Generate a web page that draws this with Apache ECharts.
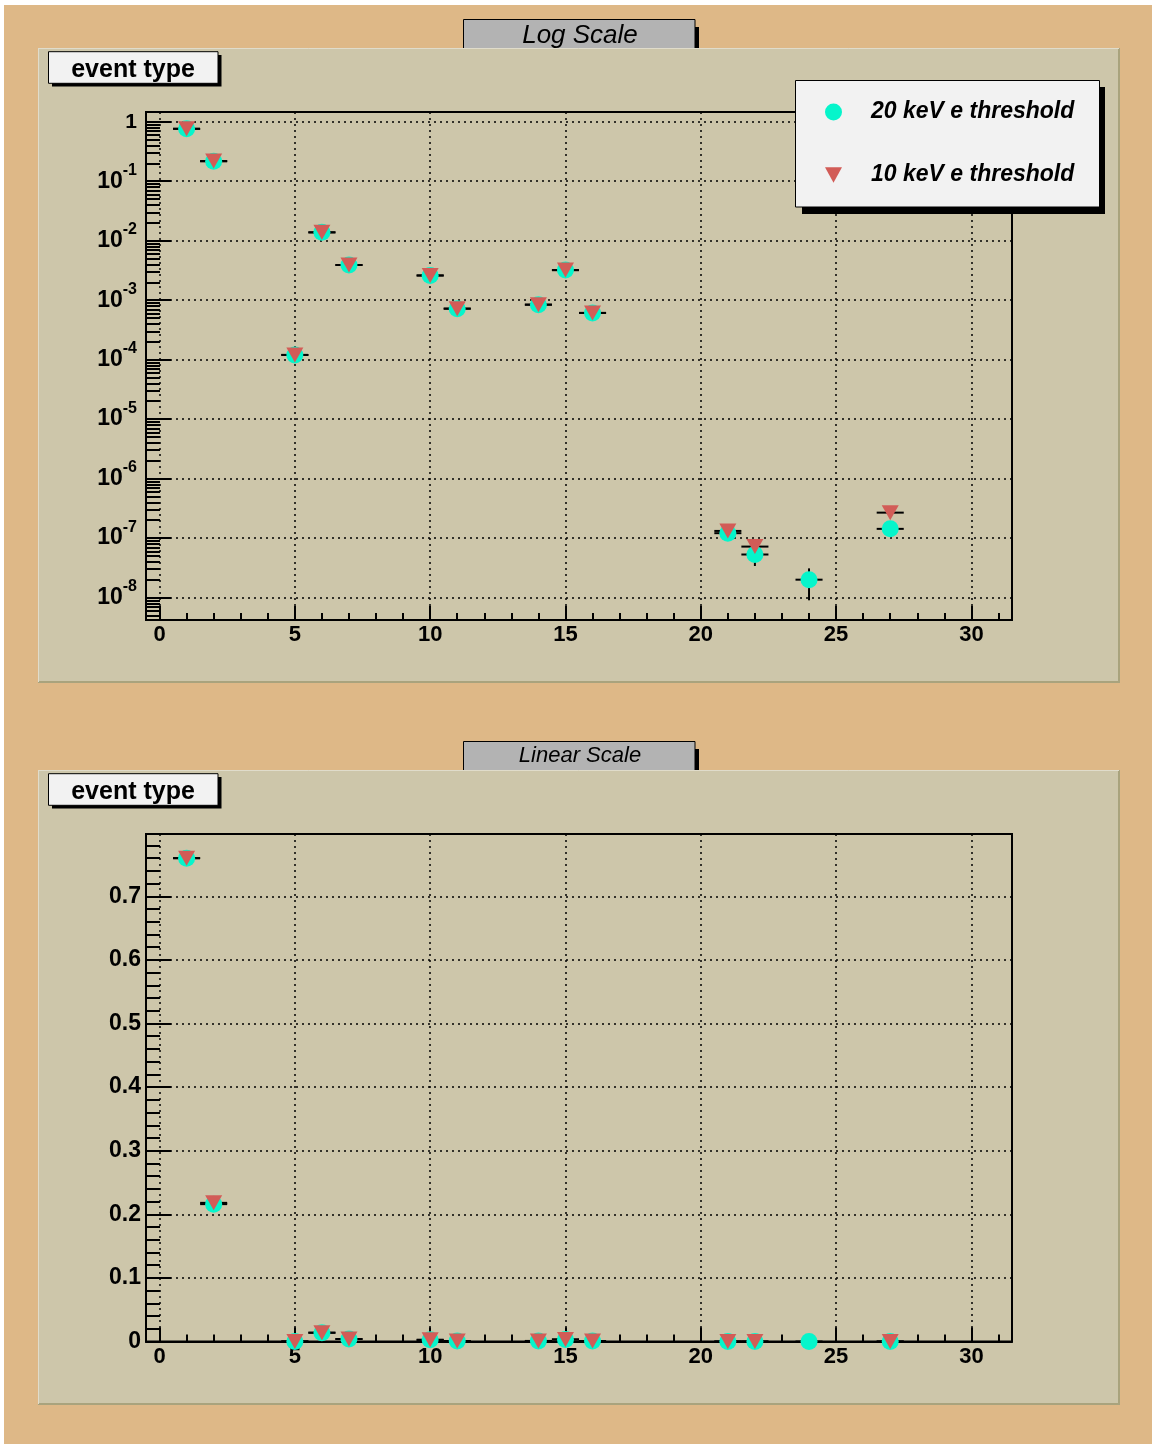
<!DOCTYPE html>
<html>
<head>
<meta charset="utf-8">
<script src="https://cdn.jsdelivr.net/npm/echarts@6/dist/echarts.min.js"></script>
<style>
  html, body { margin: 0; padding: 0; background: #fff; }
  #chart { width: 1154px; height: 1446px; }
</style>
</head>
<body>
<div id="chart"></div>
<script>
// event type bins that have entries
const bins = [1, 2, 5, 6, 7, 10, 11, 14, 15, 16, 21, 22, 24, 27];
// 20 keV e threshold (circles)
const thr20 = [0.76, 0.216, 1.2e-4, 0.0138, 0.0039, 0.0026, 7.2e-4, 8.4e-4, 0.0032, 6.1e-4, 1.21e-7, 5.3e-8, 2.0e-8, 1.43e-7];
const err20 = [0.004, 0.002, 1.2e-5, 5e-4, 2e-4, 1.5e-4, 6e-5, 6e-5, 1.5e-4, 5e-5, 3e-8, 1.9e-8, 1.1e-8, 3e-8];
// 10 keV e threshold (triangles), nothing in bin 24
const thr10 = [0.76, 0.218, 1.2e-4, 0.0138, 0.0039, 0.0026, 7.2e-4, 8.4e-4, 0.0032, 6.1e-4, 1.32e-7, 7.2e-8, null, 2.68e-7];
const err10 = [0.004, 0.002, 1.2e-5, 5e-4, 2e-4, 1.5e-4, 6e-5, 6e-5, 1.5e-4, 5e-5, 3e-8, 2e-8, null, 4e-8];

const xMajorTicks = [0, 5, 10, 15, 20, 25, 30];
const xMinorTicks = [1, 2, 3, 4, 6, 7, 8, 9, 11, 12, 13, 14, 16, 17, 18, 19, 21, 22, 23, 24, 26, 27, 28, 29, 31];
const logMajorTicks = [1e-8, 1e-7, 1e-6, 1e-5, 1e-4, 1e-3, 1e-2, 1e-1, 1];
const linMajorTicks = [0, 0.1, 0.2, 0.3, 0.4, 0.5, 0.6, 0.7];
const linMinorTicks = [0.02, 0.04, 0.06, 0.08, 0.12, 0.14, 0.16, 0.18, 0.22, 0.24, 0.26, 0.28,
  0.32, 0.34, 0.36, 0.38, 0.42, 0.44, 0.46, 0.48, 0.52, 0.54, 0.56, 0.58,
  0.62, 0.64, 0.66, 0.68, 0.72, 0.74, 0.76, 0.78];

const yLogMin = 4.2e-9, yLogMax = 1.456;
const yLinMax = 0.798;

// 2..9 x 10^n between the decades
const logMinorTicks = [];
for (let n = -9; n <= 0; n++) {
  for (let k = 2; k <= 9; k++) {
    const v = k * Math.pow(10, n);
    if (v > yLogMin && v < yLogMax) logMinorTicks.push(v);
  }
}

const name20 = "20 keV e threshold";
const name10 = "10 keV e threshold";
const font = "'Liberation Sans', Arial, Helvetica, sans-serif";
const triPath = "path://M0,0L20,0L10,18Z";
const black = { color: "#000", width: 2 };

const myChart = echarts.init(document.getElementById("chart"));

const plots = [
  { top: 112, height: 508, log: true, title: "Log Scale", titleSize: 26 },
  { top: 834, height: 507.5, log: false, title: "Linear Scale", titleSize: 22 },
];

const grids = [], xAxes = [], yAxes = [], series = [], elements = [];

elements.push({ type: "rect", z: -20, shape: { x: 4, y: 5, width: 1148, height: 1439 }, style: { fill: "#deb887" } });

plots.forEach((p, i) => {
  const off = 722 * i;
  const main = i * 2;
  grids.push({ left: 146, top: p.top, width: 866, height: p.height, show: true, borderColor: "#000", borderWidth: 2, backgroundColor: "transparent" });
  grids.push({ left: 146, top: p.top, width: 866, height: p.height, show: false });

  xAxes.push({
    type: "value", gridIndex: main, min: -0.5, max: 31.5,
    axisLine: { show: true, onZero: false, lineStyle: black },
    axisTick: { show: true, inside: true, length: 14, customValues: xMajorTicks, lineStyle: black },
    axisLabel: { customValues: xMajorTicks, color: "#000", fontFamily: font, fontWeight: "bold", fontSize: 22, margin: 4 },
    splitLine: { show: true, lineStyle: { color: "#000", width: 1.5, type: [2, 4] } },
  });
  xAxes.push({
    type: "value", gridIndex: main + 1, min: -0.5, max: 31.5,
    axisLine: { show: false, onZero: false },
    axisTick: { show: true, inside: true, length: 7, customValues: xMinorTicks, lineStyle: black },
    axisLabel: { show: false },
    splitLine: { show: false },
  });

  if (p.log) {
    yAxes.push({
      type: "log", logBase: 10, gridIndex: main, min: yLogMin, max: yLogMax,
      axisLine: { show: true, onZero: false, lineStyle: black },
      axisTick: { show: true, inside: true, length: 25, customValues: logMajorTicks, lineStyle: black },
      axisLabel: {
        customValues: logMajorTicks, margin: 9, color: "#000",
        formatter(val) {
          const e = Math.round(Math.log10(val));
          if (e === 0) return "{one|1}";
          return "{b|10}{s|" + e + "}";
        },
        rich: {
          one: { fontFamily: font, fontWeight: "bold", fontSize: 21, color: "#000" },
          b: { fontFamily: font, fontWeight: "bold", fontSize: 23, color: "#000" },
          s: { fontFamily: font, fontWeight: "bold", fontSize: 16, color: "#000", padding: [0, 0, 22, 0] },
        },
      },
      splitLine: { show: true, lineStyle: { color: "#000", width: 1.5, type: [2, 4] } },
    });
    yAxes.push({
      type: "log", logBase: 10, gridIndex: main + 1, min: yLogMin, max: yLogMax,
      axisLine: { show: false, onZero: false },
      axisTick: { show: true, inside: true, length: 14, customValues: logMinorTicks, lineStyle: black },
      axisLabel: { show: false },
      splitLine: { show: false },
    });
  } else {
    yAxes.push({
      type: "value", gridIndex: main, min: 0, max: yLinMax,
      axisLine: { show: true, onZero: false, lineStyle: black },
      axisTick: { show: true, inside: true, length: 25, customValues: linMajorTicks, lineStyle: black },
      axisLabel: { customValues: linMajorTicks, margin: 5, color: "#000", fontFamily: font, fontWeight: "bold", fontSize: 23 },
      splitLine: { show: true, lineStyle: { color: "#000", width: 1.5, type: [2, 4] } },
    });
    yAxes.push({
      type: "value", gridIndex: main + 1, min: 0, max: yLinMax,
      axisLine: { show: false, onZero: false },
      axisTick: { show: true, inside: true, length: 14, customValues: linMinorTicks, lineStyle: black },
      axisLabel: { show: false },
      splitLine: { show: false },
    });
  }

  const floor = p.log ? yLogMin : 0;
  const errorBar = (params, api) => {
    const x = api.value(0), y = api.value(1), e = api.value(2);
    const c = api.coord([x, y]);
    const l = api.coord([x - 0.5, y]);
    const r = api.coord([x + 0.5, y]);
    const t = api.coord([x, y + e]);
    const b = api.coord([x, Math.max(y - e, floor)]);
    const st = { stroke: "#000", lineWidth: 2 };
    return {
      type: "group",
      children: [
        { type: "line", shape: { x1: l[0], y1: c[1], x2: r[0], y2: c[1] }, style: st },
        { type: "line", shape: { x1: c[0], y1: t[1], x2: c[0], y2: b[1] }, style: st },
      ],
    };
  };
  const rows = (vals, errs) =>
    bins.map((b, k) => [b, vals[k], errs[k]]).filter((d) => d[1] != null);

  series.push(
    { type: "custom", xAxisIndex: main, yAxisIndex: main, z: 2, silent: true, renderItem: errorBar, data: rows(thr20, err20) },
    { type: "custom", xAxisIndex: main, yAxisIndex: main, z: 2, silent: true, renderItem: errorBar, data: rows(thr10, err10) },
    {
      name: name20, type: "scatter", xAxisIndex: main, yAxisIndex: main, z: 3,
      symbol: "circle", symbolSize: 17, itemStyle: { color: "#06f5cb", opacity: 1 },
      data: rows(thr20, err20).map((d) => [d[0], d[1]]),
    },
    {
      name: name10, type: "scatter", xAxisIndex: main, yAxisIndex: main, z: 4,
      symbol: triPath, symbolSize: [17, 15], itemStyle: { color: "#d25c57", opacity: 1 },
      data: rows(thr10, err10).map((d) => [d[0], d[1]]),
    }
  );

  // title box
  elements.push(
    { type: "rect", z: -19, shape: { x: 695, y: 27 + off, width: 4, height: 21 }, style: { fill: "#000" } },
    { type: "rect", z: -18, shape: { x: 463.5, y: 19.5 + off, width: 231.5, height: 30 }, style: { fill: "#b3b3b3", stroke: "#000", lineWidth: 1 } },
    {
      type: "text", z: -18, x: 580, y: (i ? 756 : 36),
      style: { text: p.title, font: "italic " + p.titleSize + "px " + font, fill: "#000", textAlign: "center", textVerticalAlign: "middle" },
    },
    // pad
    { type: "rect", z: -17, shape: { x: 38, y: 48 + off, width: 1082, height: 635 }, style: { fill: "#cdc6aa" } },
    { type: "line", z: -16, shape: { x1: 38, y1: 682 + off, x2: 1120, y2: 682 + off }, style: { stroke: "#a9a37d", lineWidth: 2 } },
    { type: "line", z: -16, shape: { x1: 1119, y1: 48 + off, x2: 1119, y2: 683 + off }, style: { stroke: "#a9a37d", lineWidth: 2 } },
    { type: "line", z: -16, shape: { x1: 38, y1: 48.5 + off, x2: 1119, y2: 48.5 + off }, style: { stroke: "#e0dccb", lineWidth: 1 } },
    { type: "line", z: -16, shape: { x1: 38.5, y1: 48 + off, x2: 38.5, y2: 682 + off }, style: { stroke: "#e0dccb", lineWidth: 1 } },
    // "event type" label
    { type: "rect", z: 5, shape: { x: 52, y: 55 + off, width: 169.5, height: 31.6 }, style: { fill: "#000" } },
    { type: "rect", z: 6, shape: { x: 48.5, y: 51.7 + off, width: 169.5, height: 31.6 }, style: { fill: "#f2f2f2", stroke: "#000", lineWidth: 1 } },
    {
      type: "text", z: 7, x: 133, y: 70 + off,
      style: { text: "event type", font: "bold 25px " + font, fill: "#000", textAlign: "center", textVerticalAlign: "middle" },
    }
  );
});

// legend frame and shadow
elements.push(
  { type: "rect", z: 5, shape: { x: 802, y: 87, width: 303, height: 127 }, style: { fill: "#000" } },
  { type: "rect", z: 6, shape: { x: 795.5, y: 80.5, width: 304, height: 126.5 }, style: { fill: "#f2f2f2", stroke: "#000", lineWidth: 1 } }
);

myChart.setOption({
  animation: false,
  grid: grids,
  xAxis: xAxes,
  yAxis: yAxes,
  series,
  legend: {
    left: 796, top: 81, orient: "vertical", z: 10,
    padding: [18, 20, 20, 29],
    itemWidth: 17, itemHeight: 17, itemGap: 37,
    selectedMode: false,
    data: [{ name: name20, icon: "circle" }, { name: name10, icon: triPath }],
    textStyle: { fontFamily: font, fontStyle: "italic", fontWeight: "bold", fontSize: 23, lineHeight: 26, color: "#000", padding: [0, 0, 0, 24] },
  },
  graphic: { elements },
});
</script>
</body>
</html>
